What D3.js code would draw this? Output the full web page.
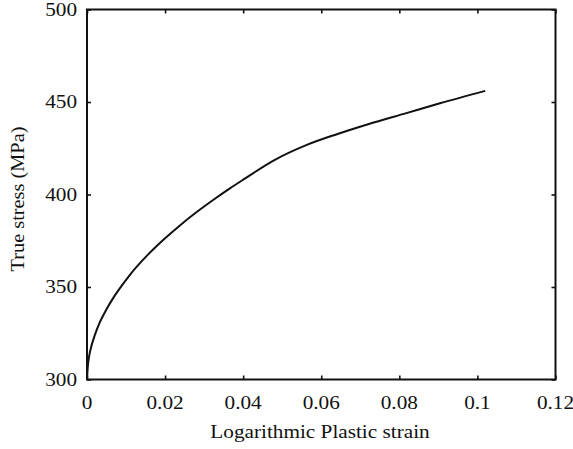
<!DOCTYPE html>
<html><head><meta charset="utf-8">
<script src="https://cdn.jsdelivr.net/npm/d3@7"></script>
<style>body{margin:0;background:#fff}svg{display:block}text{font-family:"Liberation Serif","Times New Roman",serif;fill:#111}</style>
</head><body>
<script>
const strain = [0, 0.0002, 0.0005, 0.001, 0.002, 0.0033, 0.005, 0.0067, 0.009, 0.011, 0.0153, 0.0195, 0.0238, 0.0281, 0.0323, 0.0366, 0.040, 0.048, 0.0563, 0.064, 0.072, 0.0818, 0.0904, 0.102];
const stress = [300, 307, 312, 317, 324, 331, 338, 344, 351, 356.6, 366.8, 375.4, 383.3, 390.5, 397, 403.3, 408, 418.6, 426.8, 432.6, 438, 444, 449.3, 456];
const xTicks = [0, 0.02, 0.04, 0.06, 0.08, 0.1, 0.12];
const xTickLabels = ["0", "0.02", "0.04", "0.06", "0.08", "0.1", "0.12"];
const yTicks = [300, 350, 400, 450, 500];
const xTitle = "Logarithmic Plastic strain";
const yTitle = "True stress (MPa)";

const W = 573, H = 449;
const L = 87, R = 555.5, T = 9.5, B = 379.5;
const svg = d3.select("body").append("svg").attr("width", W).attr("height", H);
const x = d3.scaleLinear().domain([0, 0.12]).range([L, R]);
const y = d3.scaleLinear().domain([300, 500]).range([B, T]);
const sx = 1.18, fs = 18;

// ticks (inward) on all four sides
const tk = 4;
const gb = svg.append("g").attr("transform", `translate(0,${B})`)
  .call(d3.axisBottom(x).tickValues(xTicks).tickSizeInner(-tk).tickSizeOuter(0).tickFormat(""));
const gt = svg.append("g").attr("transform", `translate(0,${T})`)
  .call(d3.axisTop(x).tickValues(xTicks).tickSizeInner(-tk).tickSizeOuter(0).tickFormat(""));
const gl = svg.append("g").attr("transform", `translate(${L},0)`)
  .call(d3.axisLeft(y).tickValues(yTicks).tickSizeInner(-tk).tickSizeOuter(0).tickFormat(""));
const gr = svg.append("g").attr("transform", `translate(${R},0)`)
  .call(d3.axisRight(y).tickValues(yTicks).tickSizeInner(-tk).tickSizeOuter(0).tickFormat(""));
[gb, gt, gl, gr].forEach(g => {
  g.select(".domain").remove();
  g.selectAll(".tick line").attr("stroke", "#111").attr("stroke-width", 1.6);
});

// frame
svg.append("rect").attr("x", L).attr("y", T).attr("width", R - L).attr("height", B - T)
  .attr("fill", "none").attr("stroke", "#111").attr("stroke-width", 2);

// tick labels
xTicks.forEach((v, i) => {
  svg.append("text").attr("text-anchor", "middle").attr("font-size", fs)
    .attr("transform", `translate(${x(v)},409) scale(${sx},1)`).text(xTickLabels[i]);
});
yTicks.forEach(v => {
  svg.append("text").attr("text-anchor", "end").attr("font-size", fs)
    .attr("transform", `translate(77,${y(v) + 6}) scale(${sx},1)`).text(String(v));
});

// titles
svg.append("text").attr("text-anchor", "middle").attr("font-size", fs)
  .attr("transform", `translate(320,438) scale(${sx},1)`).text(xTitle);
svg.append("text").attr("text-anchor", "middle").attr("font-size", fs)
  .attr("transform", `translate(24,199) rotate(-90) scale(1.13,1)`).text(yTitle);

// curve
const data = strain.map((s, i) => [s, stress[i]]);
svg.append("path").datum(data)
  .attr("fill", "none").attr("stroke", "#111").attr("stroke-width", 2)
  .attr("stroke-linejoin", "round")
  .attr("d", d3.line().x(d => x(d[0])).y(d => y(d[1])).curve(d3.curveMonotoneX));
</script>
</body></html>
